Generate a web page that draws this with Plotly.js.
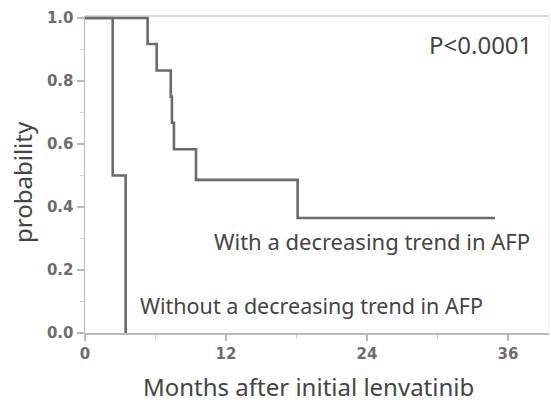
<!DOCTYPE html>
<html>
<head>
<meta charset="utf-8">
<script src="https://cdn.plot.ly/plotly-3.0.1.min.js"></script>
<style>html,body{margin:0;padding:0;background:#fff;}#chart{width:551px;height:404px;}</style>
</head>
<body>
<div id="chart"></div>
<script>
// With a decreasing trend in AFP (step curve: time in months, survival probability)
const withTime = [0, 5.33, 5.33, 6.1, 6.1, 7.3, 7.3, 7.4, 7.4, 7.57, 7.57, 9.45, 9.45, 18.1, 18.1, 34.9];
const withProb = [1.0, 1.0, 0.917, 0.917, 0.833, 0.833, 0.75, 0.75, 0.667, 0.667, 0.583, 0.583, 0.486, 0.486, 0.365, 0.365];
// Without a decreasing trend in AFP
const withoutTime = [0, 2.36, 2.36, 3.46, 3.46];
const withoutProb = [1.0, 1.0, 0.5, 0.5, 0.0];

const xTickVals = [0, 12, 24, 36];
const xTickText = ['0', '12', '24', '36'];
const yTickVals = [0, 0.2, 0.4, 0.6, 0.8, 1.0];
const yTickText = ['0.0', '0.2', '0.4', '0.6', '0.8', '1.0'];
const xMinorVals = [6, 18, 30];
const yMinorVals = [0.1, 0.3, 0.5, 0.7, 0.9];

const xTitle = 'Months after initial lenvatinib';
const yTitle = 'probability';

const font = '"Noto Sans", "Open Sans", sans-serif';
const tickFontFamily = '"DejaVu Sans", sans-serif';
const lineColor = '#6a6a6a';

const traces = [
  {x: withTime, y: withProb, mode: 'lines', line: {color: lineColor, width: 2.6}, hoverinfo: 'skip'},
  {x: withoutTime, y: withoutProb, mode: 'lines', line: {color: lineColor, width: 2.6}, hoverinfo: 'skip'}
];

const layout = {
  width: 551, height: 404,
  margin: {l: 85, r: 2, t: 16, b: 71},
  paper_bgcolor: '#fff', plot_bgcolor: '#fff',
  showlegend: false,
  font: {family: font, color: '#444'},
  xaxis: {
    range: [0, 39.5], tickvals: xTickVals, ticktext: xTickText,
    showgrid: false, zeroline: false, showline: true, linecolor: '#b8b8b8', linewidth: 1.5,
    ticks: 'outside', ticklen: 6, tickcolor: '#b8b8b8', tickwidth: 1.5,
    tickfont: {size: 15, color: '#6c6c6c', family: tickFontFamily, weight: 'bold'},
    minor: {tickvals: xMinorVals, ticks: 'outside', ticklen: 4, tickcolor: '#cfcfcf', tickwidth: 1.2}
  },
  yaxis: {
    range: [0, 1.006], tickvals: yTickVals, ticktext: yTickText,
    showgrid: false, zeroline: false, showline: true, linecolor: '#b8b8b8', linewidth: 1.5,
    ticks: 'outside', ticklen: 7, tickcolor: '#b8b8b8', tickwidth: 1.5,
    tickfont: {size: 15, color: '#6c6c6c', family: tickFontFamily, weight: 'bold'},
    minor: {tickvals: yMinorVals, ticks: 'outside', ticklen: 4, tickcolor: '#cfcfcf', tickwidth: 1.2}
  },
  shapes: [
    {type: 'line', xref: 'paper', yref: 'paper', x0: 0, x1: 1, y0: 1, y1: 1, line: {color: '#c8c8c8', width: 1.5}},
    {type: 'line', xref: 'paper', yref: 'paper', x0: 1, x1: 1, y0: 0, y1: 1, line: {color: '#ececec', width: 1}}
  ],
  annotations: [
    {text: xTitle, xref: 'paper', yref: 'paper', x: 0.482, y: 0, yshift: -53, xanchor: 'center', yanchor: 'middle', showarrow: false, font: {size: 24, color: '#444', family: font}},
    {text: yTitle, xref: 'paper', yref: 'paper', x: -0.136, y: 0.476, textangle: -90, xanchor: 'center', yanchor: 'middle', showarrow: false, font: {size: 24, color: '#444', family: font}},
    {text: 'P<0.0001', xref: 'paper', yref: 'paper', x: 0.968, y: 0.91, xanchor: 'right', yanchor: 'middle', showarrow: false, font: {size: 24, color: '#444', family: font}},
    {text: 'With a decreasing trend in AFP', xref: 'x', yref: 'y', x: 10.8, y: 0.291, xanchor: 'left', yanchor: 'middle', showarrow: false, font: {size: 22, color: '#444', family: font}},
    {text: 'Without a decreasing trend in AFP', xref: 'x', yref: 'y', x: 4.5, y: 0.088, xanchor: 'left', yanchor: 'middle', showarrow: false, font: {size: 21.5, color: '#444', family: font}}
  ]
};

Plotly.newPlot('chart', traces, layout, {displayModeBar: false, staticPlot: true});
</script>
</body>
</html>
